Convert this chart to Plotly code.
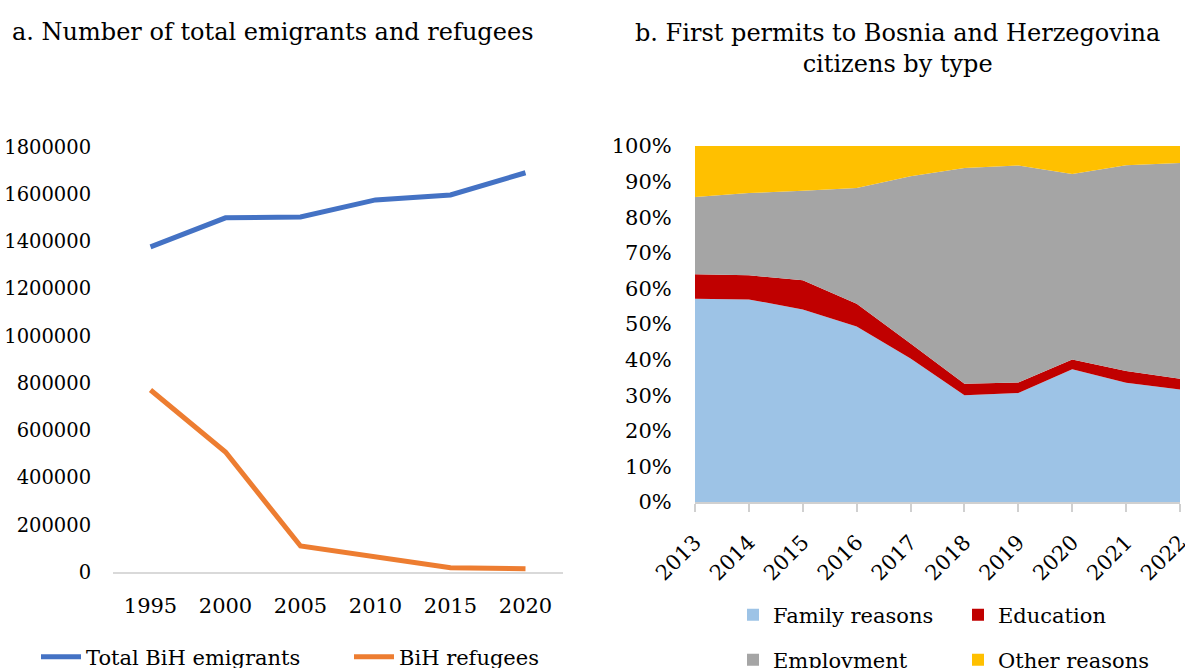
import plotly.graph_objects as go

# ---- data: panel a ----
years_a = ["1995", "2000", "2005", "2010", "2015", "2020"]
total_emigrants = [1377000, 1500000, 1504000, 1576000, 1597000, 1691000]
refugees = [771000, 508000, 110000, 65000, 18000, 14000]
yticks_a = [0, 200000, 400000, 600000, 800000, 1000000, 1200000, 1400000, 1600000, 1800000]

# ---- data: panel b (percent shares) ----
years_b = [2013, 2014, 2015, 2016, 2017, 2018, 2019, 2020, 2021, 2022]
family = [57.1, 56.9, 54.1, 49.3, 40.3, 30.0, 30.6, 37.3, 33.5, 31.6]
education = [6.9, 6.8, 8.2, 6.4, 4.2, 3.2, 3.0, 2.7, 3.3, 3.0]
employment = [21.7, 23.1, 25.1, 32.5, 47.0, 60.6, 60.9, 52.1, 57.8, 60.6]
other = [14.3, 13.2, 12.6, 11.8, 8.5, 6.2, 5.5, 7.9, 5.4, 4.8]
yticks_b = [0, 10, 20, 30, 40, 50, 60, 70, 80, 90, 100]

FONT = "DejaVu Serif"
W, H = 1185, 668
TS = 21

fig = go.Figure()

# panel a lines
fig.add_trace(go.Scatter(x=years_a, y=total_emigrants, mode="lines", name="Total BiH emigrants",
                         line=dict(color="#4472C4", width=5), xaxis="x", yaxis="y", legend="legend"))
fig.add_trace(go.Scatter(x=years_a, y=refugees, mode="lines", name="BiH refugees",
                         line=dict(color="#ED7D31", width=5), xaxis="x", yaxis="y", legend="legend"))

# panel b stacked areas
series_b = [("Family reasons", family, "#9DC3E6"),
            ("Education", education, "#C00000"),
            ("Employment", employment, "#A5A5A5"),
            ("Other reasons", other, "#FFC000")]
for name, vals, col in series_b:
    fig.add_trace(go.Scatter(x=years_b, y=vals, mode="lines", name=name, stackgroup="b",
                             line=dict(width=0, color=col), fillcolor=col,
                             xaxis="x2", yaxis="y2", showlegend=False))
# legend-only square markers
for i, (name, vals, col) in enumerate(series_b):
    fig.add_trace(go.Scatter(x=[None], y=[None], mode="markers", name=name,
                             marker=dict(symbol="square", size=12, color=col),
                             xaxis="x2", yaxis="y2",
                             legend="legend2" if i < 2 else "legend3"))

def px_x(p):
    return p / W

def px_y(p):
    return (H - p) / H

fig.update_layout(
    width=W, height=H,
    margin=dict(l=0, r=0, t=0, b=0, autoexpand=False),
    paper_bgcolor="white", plot_bgcolor="white",
    font=dict(family=FONT, size=TS, color="black"),
    xaxis=dict(domain=[px_x(113), px_x(563)], anchor="y", type="category", range=[-0.5, 5.5],
               showgrid=False, showline=True, linecolor="#d9d9d9", linewidth=2, automargin=False,
               ticks="outside", ticklen=14, tickcolor="rgba(0,0,0,0)",
               tickfont=dict(size=TS), zeroline=False, fixedrange=True),
    yaxis=dict(domain=[px_y(572), px_y(147)], anchor="x", range=[0, 1800000], tickvals=yticks_a,
               ticktext=[str(v) for v in yticks_a], showgrid=False, zeroline=False, automargin=False,
               showline=False, ticks="outside", ticklen=17, tickcolor="rgba(0,0,0,0)",
               tickfont=dict(size=19.5), fixedrange=True),
    xaxis2=dict(domain=[px_x(695), px_x(1180)], anchor="y2", range=[2013, 2022], tickvals=years_b,
                ticktext=[str(v) for v in years_b], tickangle=-45, showgrid=False, automargin=False,
                showline=True, linecolor="#d0d0d0", linewidth=1.5, ticklabeloverflow="allow",
                ticks="outside", ticklen=8, tickcolor="#d0d0d0", tickwidth=1.5,
                ticklabelstandoff=10,
                zeroline=False, tickfont=dict(size=TS), fixedrange=True),
    yaxis2=dict(domain=[px_y(502), px_y(146)], anchor="x2", range=[0, 100], tickvals=yticks_b,
                ticktext=[f"{v}%" for v in yticks_b], showgrid=False, zeroline=False, automargin=False,
                showline=False, ticks="outside", ticklen=18, tickcolor="rgba(0,0,0,0)",
                tickfont=dict(size=TS), fixedrange=True),
    legend=dict(orientation="h", x=px_x(36), y=px_y(657), xanchor="left", yanchor="middle",
                entrywidth=258, entrywidthmode="pixels", font=dict(size=TS), traceorder="normal",
                bgcolor="rgba(0,0,0,0)", itemwidth=40),
    legend2=dict(orientation="h", x=px_x(733), y=px_y(615), xanchor="left", yanchor="middle",
                 entrywidth=180, entrywidthmode="pixels", font=dict(size=TS), traceorder="normal",
                 bgcolor="rgba(0,0,0,0)", itemwidth=30),
    legend3=dict(orientation="h", x=px_x(733), y=px_y(660), xanchor="left", yanchor="middle",
                 entrywidth=180, entrywidthmode="pixels", font=dict(size=TS), traceorder="normal",
                 bgcolor="rgba(0,0,0,0)", itemwidth=30),
    annotations=[
        dict(text="a. Number of total emigrants and refugees", x=px_x(272), y=px_y(32),
             xref="paper", yref="paper", xanchor="center", yanchor="middle",
             showarrow=False, font=dict(size=24)),
        dict(text="b. First permits to Bosnia and Herzegovina<br>citizens by type",
             x=px_x(897), y=px_y(48), xref="paper", yref="paper", xanchor="center",
             yanchor="middle", showarrow=False, font=dict(size=24)),
    ],
)

fig.write_html("out.html", config={"displayModeBar": False},
               post_script="document.body.style.margin='0';document.body.style.overflow='hidden';")
